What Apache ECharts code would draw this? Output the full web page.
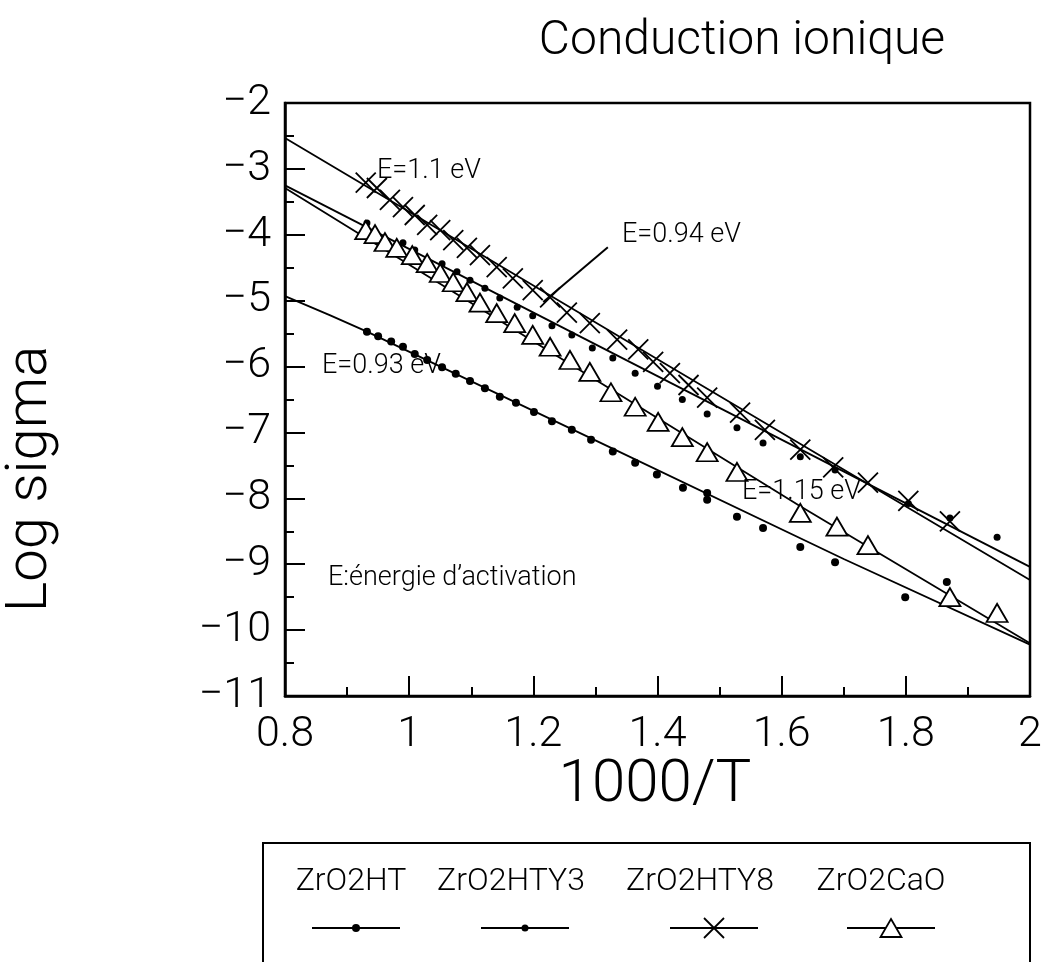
<!DOCTYPE html>
<html>
<head>
<meta charset="utf-8">
<script src="https://cdn.jsdelivr.net/npm/echarts@6/dist/echarts.min.js"></script>
<style>
  html, body { margin: 0; padding: 0; background: #fff; }
  #chart { width: 1049px; height: 962px; }
</style>
</head>
<body>
<div id="chart"></div>
<script>
// Arrhenius plot: log conductivity vs 1000/T for four zirconia samples

const seriesNames = ['ZrO2HT', 'ZrO2HTY3', 'ZrO2HTY8', 'ZrO2CaO'];

// ZrO2HT (lower dotted set, E = 0.93 eV)
const htX = [0.932, 0.950, 0.971, 0.990, 1.009, 1.029, 1.053, 1.075, 1.098, 1.122, 1.146, 1.172, 1.201, 1.230, 1.262, 1.293, 1.328, 1.364, 1.399, 1.441, 1.480, 1.480, 1.528, 1.570, 1.630, 1.686, 1.799, 1.866];
const htY = [-5.47, -5.54, -5.62, -5.70, -5.81, -5.90, -6.01, -6.11, -6.22, -6.33, -6.46, -6.55, -6.69, -6.83, -6.96, -7.11, -7.29, -7.46, -7.64, -7.84, -7.92, -8.02, -8.28, -8.45, -8.74, -8.97, -9.50, -9.27];
const htFitX = [0.8, 0.872, 0.932, 1.3, 1.7, 2.0];
const htFitY = [-4.93, -5.22, -5.47, -7.12, -8.92, -10.22];

// ZrO2HTY3 (upper dotted set, E = 0.94 eV)
const y3X = [0.932, 0.990, 1.009, 1.053, 1.077, 1.098, 1.122, 1.146, 1.174, 1.199, 1.230, 1.262, 1.295, 1.328, 1.364, 1.400, 1.440, 1.480, 1.528, 1.570, 1.630, 1.686, 1.804, 1.871, 1.947];
const y3Y = [-3.82, -4.12, -4.23, -4.44, -4.56, -4.69, -4.81, -4.96, -5.10, -5.23, -5.38, -5.52, -5.72, -5.87, -6.10, -6.30, -6.50, -6.72, -6.93, -7.16, -7.37, -7.57, -8.08, -8.30, -8.59];
const y3FitX = [0.8, 2.0];
const y3FitY = [-3.25, -9.04];

// ZrO2HTY8 (crosses, E = 1.1 eV)
const y8X = [0.930, 0.948, 0.969, 0.990, 1.009, 1.029, 1.050, 1.071, 1.093, 1.114, 1.141, 1.167, 1.199, 1.227, 1.254, 1.291, 1.335, 1.369, 1.393, 1.420, 1.450, 1.480, 1.533, 1.573, 1.630, 1.683, 1.739, 1.804, 1.871];
const y8Y = [-3.21, -3.29, -3.47, -3.58, -3.70, -3.85, -3.93, -4.08, -4.20, -4.31, -4.49, -4.66, -4.84, -4.95, -5.18, -5.34, -5.59, -5.74, -5.93, -6.10, -6.28, -6.47, -6.70, -6.96, -7.26, -7.53, -7.76, -8.04, -8.35];
const y8FitX = [0.8, 1.4, 2.0];
const y8FitY = [-2.53, -5.89, -9.24];

// ZrO2CaO (triangles, E = 1.15 eV)
const caX = [0.930, 0.945, 0.961, 0.980, 1.005, 1.029, 1.050, 1.071, 1.093, 1.114, 1.141, 1.170, 1.199, 1.227, 1.259, 1.291, 1.325, 1.364, 1.401, 1.440, 1.480, 1.528, 1.630, 1.689, 1.739, 1.871, 1.947];
const caY = [-3.93, -3.99, -4.11, -4.20, -4.31, -4.43, -4.58, -4.72, -4.87, -5.03, -5.19, -5.34, -5.52, -5.70, -5.90, -6.08, -6.39, -6.61, -6.84, -7.07, -7.30, -7.60, -8.22, -8.43, -8.71, -9.50, -9.74];
const caFitX = [0.8, 1.63, 2.0];
const caFitY = [-3.29, -8.12, -10.20];

// axis ranges and ticks
const xMin = 0.8, xMax = 2.0, xStep = 0.2;
const yMin = -11, yMax = -2, yStep = 1;

// arrow pointing at the ZrO2HTY3 line
const arrowFrom = [1.32, -4.19];
const arrowTo = [1.216, -5.02];

const FONT = "Roboto, 'Liberation Sans', sans-serif";
const W = 300;
const INK = '#000';

const zip = (xs, ys) => xs.map((x, i) => [x, ys[i]]);
const minus = v => String(v).replace('-', '\u2212');
const font = px => W + ' ' + px + 'px ' + FONT;

const crossPath = 'path://M0,0L10,10M10,0L0,10';
const markerDefs = [
  { symbol: 'circle', size: 8, itemStyle: { color: INK, opacity: 1 } },
  { symbol: 'circle', size: 7, itemStyle: { color: INK, opacity: 1 } },
  { symbol: crossPath, size: 20, itemStyle: { color: 'transparent', borderColor: INK, borderWidth: 1.8, opacity: 1 } },
  { symbol: 'triangle', size: [21, 18], itemStyle: { color: '#fff', borderColor: INK, borderWidth: 1.8, opacity: 1 } }
];

const points = [zip(htX, htY), zip(y3X, y3Y), zip(y8X, y8Y), zip(caX, caY)];
const fits = [zip(htFitX, htFitY), zip(y3FitX, y3FitY), zip(y8FitX, y8FitY), zip(caFitX, caFitY)];

const series = [];
seriesNames.forEach((name, i) => {
  series.push({
    name: name + ' fit',
    type: 'line',
    data: fits[i],
    symbol: 'none',
    lineStyle: { color: INK, width: 1.8 },
    z: 2,
    silent: true
  });
});
seriesNames.forEach((name, i) => {
  const m = markerDefs[i];
  const s = {
    name: name,
    type: 'scatter',
    data: points[i],
    symbol: m.symbol,
    symbolSize: m.size,
    itemStyle: m.itemStyle,
    emphasis: { disabled: true },
    z: 3
  };
  if (i === 1) {
    s.markLine = {
      silent: true,
      symbol: ['none', 'arrow'],
      symbolSize: [0, 26],
      lineStyle: { color: INK, width: 2, type: 'solid', opacity: 1 },
      label: { show: false },
      emphasis: { disabled: true },
      data: [[{ coord: arrowFrom }, { coord: arrowTo }]]
    };
  }
  series.push(s);
});

// legend drawn as a boxed table: name above a sample of the line and marker
const legendCols = [356, 525, 714, 891];
const legendTextX = [351, 511, 700, 881];
const legendGraphics = [{
  type: 'rect',
  shape: { x: 263, y: 843, width: 767, height: 200 },
  style: { fill: 'none', stroke: INK, lineWidth: 2 }
}];
seriesNames.forEach((name, i) => {
  const cx = legendCols[i];
  legendGraphics.push({
    type: 'text',
    style: { text: name, x: legendTextX[i], y: 882, font: font(32), fill: INK, textAlign: 'center', textVerticalAlign: 'middle' }
  });
  legendGraphics.push({
    type: 'line',
    shape: { x1: cx - 44, y1: 928, x2: cx + 44, y2: 928 },
    style: { stroke: INK, lineWidth: 1.8 }
  });
  const m = markerDefs[i];
  const sz = Array.isArray(m.size) ? m.size : [m.size, m.size];
  if (m.symbol === 'circle') {
    legendGraphics.push({ type: 'circle', shape: { cx: cx, cy: 928, r: sz[0] / 2 }, style: { fill: INK } });
  } else if (m.symbol === 'triangle') {
    legendGraphics.push({ type: 'polygon', shape: { points: [[cx, 928 - sz[1] / 2], [cx + sz[0] / 2, 928 + sz[1] / 2], [cx - sz[0] / 2, 928 + sz[1] / 2]] }, style: { fill: '#fff', stroke: INK, lineWidth: 1.8 } });
  } else {
    const h = sz[0] / 2;
    legendGraphics.push({ type: 'line', shape: { x1: cx - h, y1: 928 - h, x2: cx + h, y2: 928 + h }, style: { stroke: INK, lineWidth: 1.8 } });
    legendGraphics.push({ type: 'line', shape: { x1: cx + h, y1: 928 - h, x2: cx - h, y2: 928 + h }, style: { stroke: INK, lineWidth: 1.8 } });
  }
});

const annotations = [
  { text: 'E=1.1 eV', x: 377, y: 171 },
  { text: 'E=0.94 eV', x: 622, y: 235 },
  { text: 'E=0.93 eV', x: 322, y: 366 },
  { text: 'E=1.15 eV', x: 742, y: 492 },
  { text: 'E:énergie d\u2019activation', x: 328, y: 578 }
];

const chart = echarts.init(document.getElementById('chart'), null, { renderer: 'canvas' });
chart.setOption({
  backgroundColor: '#fff',
  animation: false,
  grid: {
    left: 285, top: 103, right: 19, bottom: 266,
    show: true, borderColor: INK, borderWidth: 2.5, backgroundColor: 'transparent'
  },
  xAxis: {
    type: 'value', min: xMin, max: xMax, interval: xStep,
    axisLine: { onZero: false, lineStyle: { color: INK, width: 2.5 } },
    axisTick: { inside: true, length: 20, lineStyle: { color: INK, width: 2 } },
    minorTick: { show: true, splitNumber: 2, length: 9, lineStyle: { color: INK, width: 2 } },
    splitLine: { show: false },
    axisLabel: {
      margin: 18, color: INK, fontFamily: FONT, fontWeight: W, fontSize: 43,
      formatter: v => minus(Math.round(v * 10) / 10)
    }
  },
  yAxis: {
    type: 'value', min: yMin, max: yMax, interval: yStep,
    axisLine: { onZero: false, lineStyle: { color: INK, width: 2.5 } },
    axisTick: { inside: true, length: 20, lineStyle: { color: INK, width: 2 } },
    minorTick: { show: true, splitNumber: 2, length: 9, lineStyle: { color: INK, width: 2 } },
    splitLine: { show: false },
    axisLabel: {
      margin: 14, color: INK, fontFamily: FONT, fontWeight: W, fontSize: 43,
      formatter: v => minus(v)
    }
  },
  series: series,
  graphic: [
    { type: 'text', style: { text: 'Conduction ionique', x: 742, y: 42, font: font(48), fill: INK, textAlign: 'center', textVerticalAlign: 'middle' } },
    { type: 'text', rotation: Math.PI / 2, x: 31, y: 479, style: { text: 'Log sigma', x: 0, y: 0, font: font(58), fill: INK, textAlign: 'center', textVerticalAlign: 'middle' } },
    { type: 'text', style: { text: '1000/T', x: 655, y: 786, font: font(60), fill: INK, textAlign: 'center', textVerticalAlign: 'middle' } }
  ].concat(annotations.map(a => ({
    type: 'text', z: 10,
    style: { text: a.text, x: a.x, y: a.y, font: font(27), fill: INK, textAlign: 'left', textVerticalAlign: 'middle' }
  }))).concat(legendGraphics)
});
</script>
</body>
</html>
